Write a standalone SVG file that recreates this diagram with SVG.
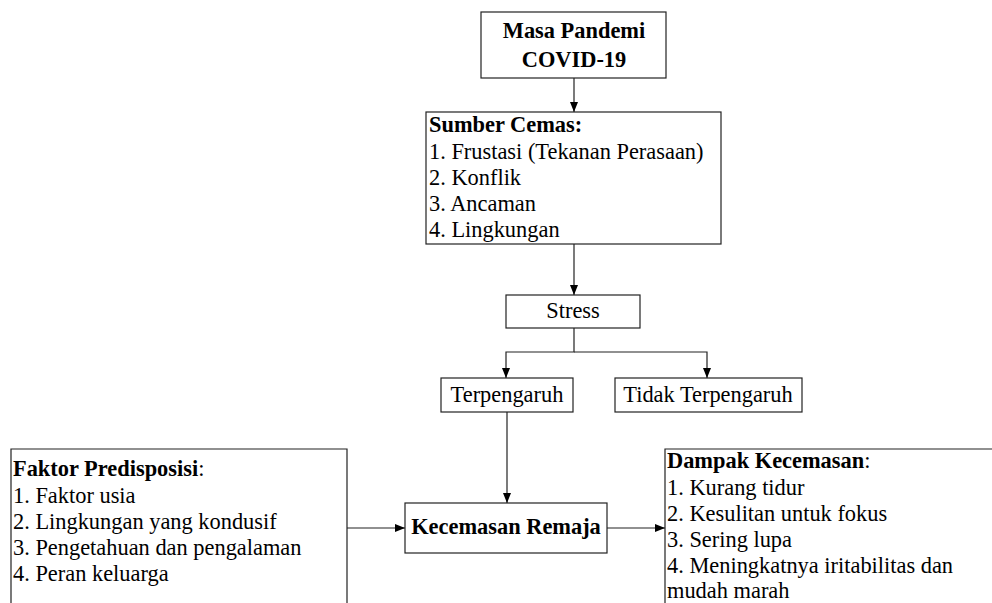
<svg xmlns="http://www.w3.org/2000/svg" width="992" height="603" viewBox="0 0 992 603">
<defs>
<marker id="arr" markerWidth="10" markerHeight="8" refX="10" refY="4" orient="auto" markerUnits="userSpaceOnUse">
<path d="M0,0 L10,4 L0,8 Z" fill="#000"/>
</marker>
<style>
.box{fill:#fff;stroke:#222;stroke-width:1.2}
.t{font-family:'Liberation Serif','Times New Roman',serif;font-size:22.4px;fill:#000}
.b{font-weight:bold}
.c{text-anchor:middle}
.ln{fill:none;stroke:#222;stroke-width:1.2}
</style>
</defs>
<rect width="992" height="603" fill="#fff"/>
<g id="connectors">
<line class="ln" x1="574" y1="78" x2="574" y2="112" marker-end="url(#arr)"/>
<line class="ln" x1="574" y1="244" x2="574" y2="295" marker-end="url(#arr)"/>
<polyline class="ln" points="574,328 574,352 506,352 506,378" marker-end="url(#arr)"/>
<polyline class="ln" points="574,352 707,352 707,378" marker-end="url(#arr)"/>
<line class="ln" x1="507" y1="412" x2="507" y2="503" marker-end="url(#arr)"/>
<line class="ln" x1="347" y1="528" x2="405" y2="528" marker-end="url(#arr)"/>
<line class="ln" x1="607" y1="528" x2="665" y2="528" marker-end="url(#arr)"/>
</g>
<g id="masa">
<rect class="box" x="481" y="12" width="185" height="66"/>
<text class="t b c" x="574" y="38">Masa Pandemi</text>
<text class="t b c" x="574" y="67">COVID-19</text>
</g>
<g id="sumber">
<rect class="box" x="426" y="112" width="295" height="132"/>
<text class="t b" x="429" y="132">Sumber Cemas:</text>
<text class="t" x="429" y="159">1. Frustasi (Tekanan Perasaan)</text>
<text class="t" x="429" y="185">2. Konflik</text>
<text class="t" x="429" y="211">3. Ancaman</text>
<text class="t" x="429" y="237">4. Lingkungan</text>
</g>
<g id="stress">
<rect class="box" x="506" y="295" width="134" height="33"/>
<text class="t c" x="573" y="318">Stress</text>
</g>
<g id="terpengaruh">
<rect class="box" x="441" y="378" width="132" height="34"/>
<text class="t c" x="507" y="402">Terpengaruh</text>
</g>
<g id="tidak">
<rect class="box" x="615" y="378" width="187" height="34"/>
<text class="t c" x="708" y="402">Tidak Terpengaruh</text>
</g>
<g id="faktor">
<path class="ln" d="M11,603 L11,449 L347,449 L347,603"/>
<text class="t" x="13" y="476"><tspan class="b">Faktor Predisposisi</tspan>:</text>
<text class="t" x="13" y="503">1. Faktor usia</text>
<text class="t" x="13" y="529">2. Lingkungan yang kondusif</text>
<text class="t" x="13" y="555">3. Pengetahuan dan pengalaman</text>
<text class="t" x="13" y="581">4. Peran keluarga</text>
</g>
<g id="kecemasan">
<rect class="box" x="405" y="503" width="202" height="50"/>
<text class="t b c" x="506" y="534">Kecemasan Remaja</text>
</g>
<g id="dampak">
<path class="ln" d="M665,603 L665,449 L992,449"/>
<text class="t" x="667" y="468"><tspan class="b">Dampak Kecemasan</tspan>:</text>
<text class="t" x="667" y="495">1. Kurang tidur</text>
<text class="t" x="667" y="521">2. Kesulitan untuk fokus</text>
<text class="t" x="667" y="547">3. Sering lupa</text>
<text class="t" x="667" y="573">4. Meningkatnya iritabilitas dan</text>
<text class="t" x="667" y="598">mudah marah</text>
</g>
</svg>
